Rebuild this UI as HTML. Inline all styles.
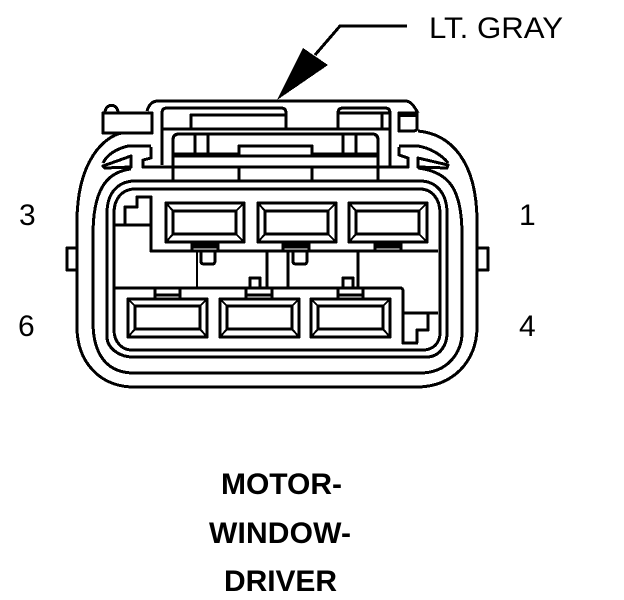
<!DOCTYPE html>
<html><head><meta charset="utf-8"><style>
html,body{margin:0;padding:0;background:#fff;width:624px;height:600px;overflow:hidden}
svg{display:block}
text{font-family:"Liberation Sans",sans-serif;fill:#000}
</style></head><body>
<svg width="624" height="600" viewBox="0 0 624 600" xmlns="http://www.w3.org/2000/svg">
<g fill="none" stroke="#000" stroke-width="3" stroke-linejoin="round" stroke-linecap="butt" shape-rendering="crispEdges">
<!-- contours -->
<path d="M122 133C105 136 77 160 77 222V327C77 362 100 387 134 387H417C452 387 477 362 477 327V222C477 160 450 134 418 131"/>
<path d="M131 169C105 172 93 192 93 235V322C93 352 105 373 134 373H420C448 373 462 352 462 333V235C462 190 450 172 418 168"/>
<path d="M107 213C107 193 118 181 135 181H420C436 181 447 193 447 213V333C447 347 438 357 427 357H133C118 357 107 347 107 337Z"/>
<path d="M114 213C114 199 122 189 135 189H420C432 189 440 199 440 213V333C440 343 433 350 423 350H132C122 350 114 342 114 330Z"/>
<!-- left box & top -->
<path d="M103 113V133H152V113Z"/>
<path d="M105 112C106 103 117 103 118 112"/>
<path d="M147 111C149 104 153 101 158 101H405C411 101 414 106 418 113"/>
<!-- left slit -->
<path d="M151 147V158L143 160V167H408V158L399 155V147"/>
<path d="M151 146H128C116 149 107 155 103 163"/>
<path d="M103 166L131 156V167L105 168Z"/>
<!-- right slit -->
<path d="M399 146H418C430 148 442 155 448 163"/>
<path d="M418 158L448 165L447 168L418 167Z"/>
<!-- top blocks -->
<path d="M162 165V113Q162 108 167 108H281Q286 108 286 113V129"/>
<path d="M338 129V113Q338 108 343 108H385Q390 108 390 113V166"/>
<path d="M191 129V115H286"/>
<path d="M338 113H390M382 113V129"/>
<path d="M162 129H390"/>
<path d="M173 180V140Q173 134 179 134H372Q378 134 378 140V180"/>
<path d="M195 134V155M208 134V155M343 134V155M356 134V155"/>
<path d="M173 154H238M312 154H378"/>
<path d="M239 155V146H312V155"/>
<path d="M173 156H378"/>
<path d="M239 167V180M312 167V180"/>
<!-- interior partitions -->
<path d="M114 225H151M125 225V207H137V197H151V251H438"/>
<path d="M114 288H400Q403 288 403 291V343H418"/>
<path d="M403 313H438M428 313V330H417V343"/>
<path d="M197 251V288" stroke-width="2"/>
<path d="M267 251V288"/>
<path d="M288 251V288"/>
<path d="M358 251V288"/>
<!-- upper terminals -->
<g>
<rect x="166" y="203" width="78" height="39"/>
<rect x="173" y="211" width="63" height="23"/>
<path d="M166 203L173 211M244 203L236 211M166 242L173 234M244 242L236 234" stroke-width="2"/>
</g>
<g transform="translate(92 0)">
<rect x="166" y="203" width="78" height="39"/>
<rect x="173" y="211" width="63" height="23"/>
<path d="M166 203L173 211M244 203L236 211M166 242L173 234M244 242L236 234" stroke-width="2"/>
</g>
<g transform="translate(183 0)">
<rect x="166" y="203" width="78" height="39"/>
<rect x="173" y="211" width="63" height="23"/>
<path d="M166 203L173 211M244 203L236 211M166 242L173 234M244 242L236 234" stroke-width="2"/>
</g>
<!-- upper tabs -->
<path d="M192 242V251M218 242V251M283 242V251M309 242V251M375 242V251M401 242V251"/>
<path d="M192 246H218M283 246H309M375 246H401" stroke-width="5"/>
<path d="M201 251V261Q201 264 204 264H212Q215 264 215 261V251"/>
<path d="M293 251V261Q293 264 296 264H304Q307 264 307 261V251"/>
<!-- lower terminals -->
<g>
<rect x="128" y="299" width="79" height="38"/>
<rect x="135" y="306" width="65" height="23"/>
<path d="M128 299L135 306M207 299L200 306M128 337L135 329M207 337L200 329" stroke-width="2"/>
</g>
<g transform="translate(92 0)">
<rect x="128" y="299" width="79" height="38"/>
<rect x="135" y="306" width="65" height="23"/>
<path d="M128 299L135 306M207 299L200 306M128 337L135 329M207 337L200 329" stroke-width="2"/>
</g>
<g transform="translate(183 0)">
<rect x="128" y="299" width="79" height="38"/>
<rect x="135" y="306" width="65" height="23"/>
<path d="M128 299L135 306M207 299L200 306M128 337L135 329M207 337L200 329" stroke-width="2"/>
</g>
<!-- lower tabs -->
<path d="M155 288V299M180 288V299M155 295H180"/>
<path d="M246 288V299M272 288V299M246 295H272"/>
<path d="M338 288V299M363 288V299M338 295H363"/>
<path d="M250 288V278H260V288"/>
<path d="M343 288V278H353V288"/>
<!-- side tabs -->
<path d="M77 248H67V270H77"/>
<path d="M477 248H488V270H477"/>
<!-- leader -->
<path d="M315 55L340 26H407"/>
<!-- right box -->
<path d="M399 113H417V128Q417 131 413 131H399Z"/>
<path d="M400 115H417" stroke-width="4"/>
<polygon points="277,100 303,48 328,65" fill="#000" stroke="none"/>
</g>
<text x="429" y="38" font-size="30" textLength="134" lengthAdjust="spacingAndGlyphs">LT. GRAY</text>
<text x="19" y="225" font-size="30">3</text>
<text x="18" y="336" font-size="30">6</text>
<text x="519" y="225" font-size="30">1</text>
<text x="519" y="336" font-size="30">4</text>
<g font-weight="bold" font-size="30">
<text x="221" y="494" textLength="121" lengthAdjust="spacing" style="font-weight:bold">MOTOR-</text>
<text x="209" y="543" textLength="142" lengthAdjust="spacing" style="font-weight:bold">WINDOW-</text>
<text x="224" y="591" textLength="113" lengthAdjust="spacing" style="font-weight:bold">DRIVER</text>
</g>
</svg>
</body></html>
